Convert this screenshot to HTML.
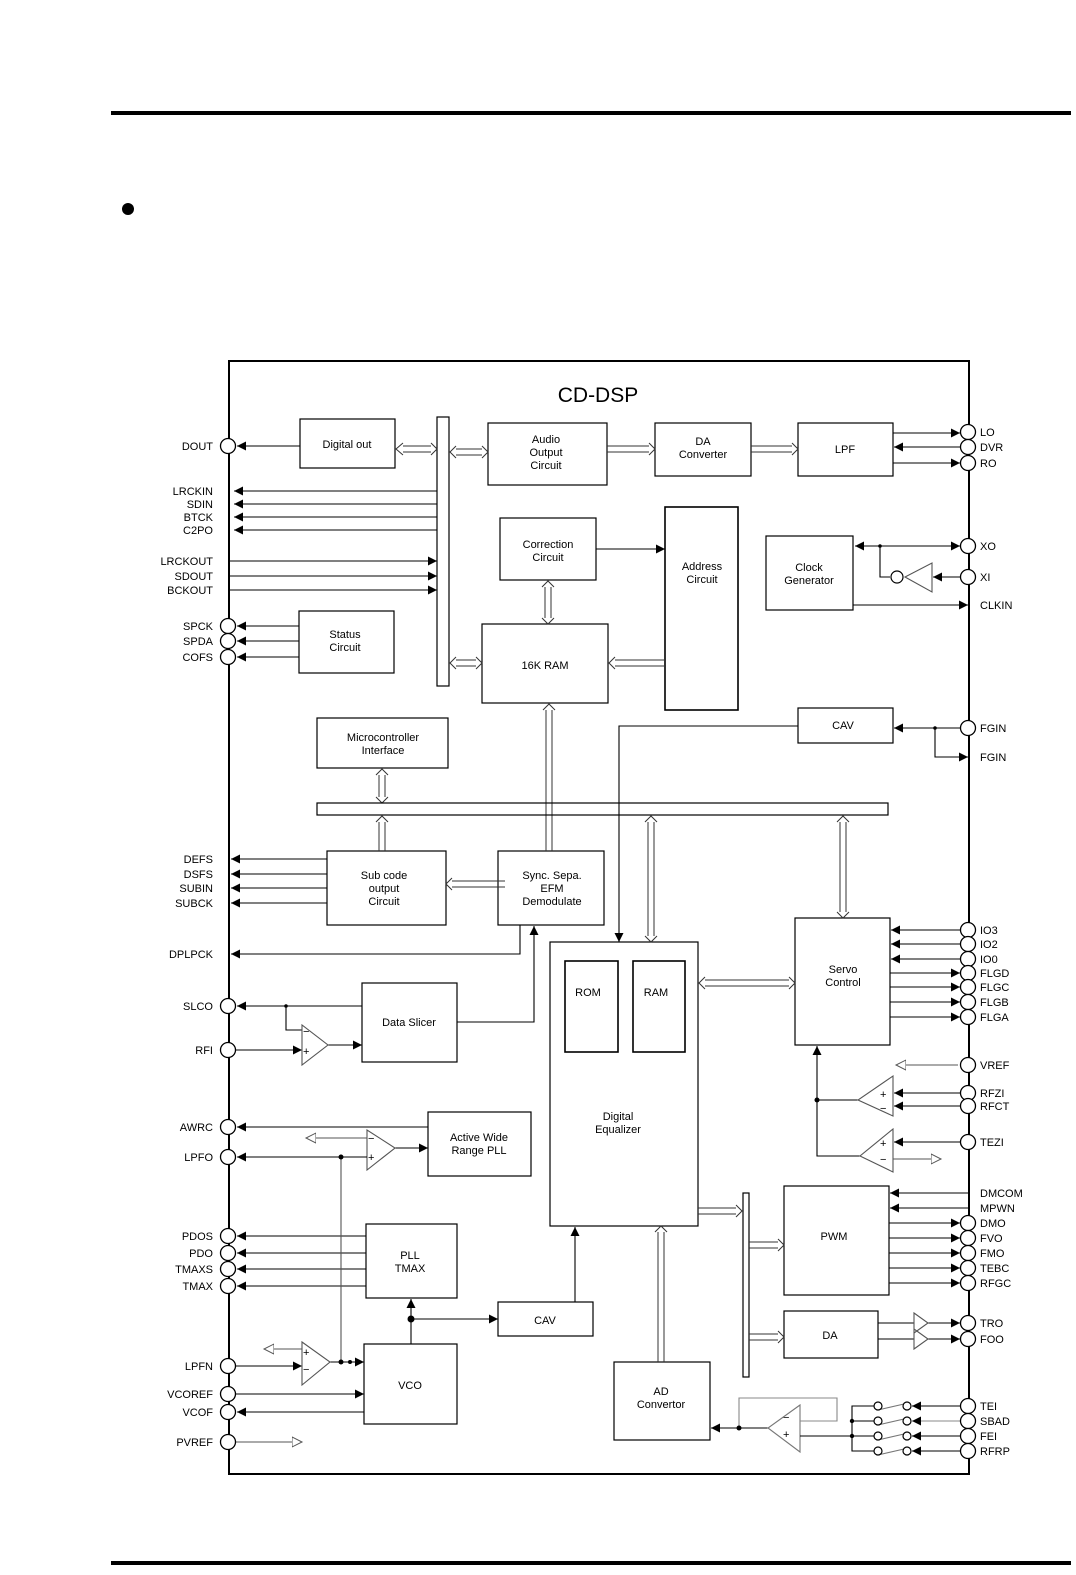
<!DOCTYPE html>
<html><head><meta charset="utf-8"><style>
html,body{margin:0;padding:0;background:#fff;}
svg{display:block;font-family:"Liberation Sans",sans-serif;}
text{font-size:11px;fill:#000;}
</style></head><body>
<svg width="1076" height="1575" viewBox="0 0 1076 1575" xmlns="http://www.w3.org/2000/svg">
<defs>
<marker id="a" markerUnits="userSpaceOnUse" markerWidth="10" markerHeight="10" refX="9" refY="5" orient="auto"><path d="M0,0.5 L9,5 L0,9.5 Z" fill="#000"/></marker>
<marker id="o" markerUnits="userSpaceOnUse" markerWidth="12" markerHeight="12" refX="10" refY="6" orient="auto"><path d="M0,1 L10,6 L0,11 Z" fill="#fff" stroke="#555" stroke-width="1"/></marker>
</defs>
<g stroke="#000" fill="none" stroke-width="1.2">
<line x1="111" y1="113" x2="1071" y2="113" stroke-width="4"/>
<line x1="111" y1="1563" x2="1071" y2="1563" stroke-width="4"/>
<rect x="229" y="361" width="740" height="1113" stroke-width="2"/>
</g>
<circle cx="128" cy="209" r="6" fill="#000"/>
<text x="598" y="402" text-anchor="middle" style="font-size:21px">CD-DSP</text>

<g stroke="#000" fill="#fff" stroke-width="1.2">
<rect x="300" y="419" width="95" height="49"/>
<rect x="437" y="417" width="12" height="269"/>
<rect x="488" y="423" width="119" height="62"/>
<rect x="655" y="423" width="96" height="53"/>
<rect x="798" y="423" width="95" height="53"/>
<rect x="500" y="518" width="96" height="62"/>
<rect x="665" y="507" width="73" height="203" stroke-width="1.6"/>
<rect x="482" y="624" width="126" height="79"/>
<rect x="766" y="536" width="87" height="74"/>
<rect x="299" y="611" width="95" height="62"/>
<rect x="317" y="718" width="131" height="50"/>
<rect x="798" y="708" width="95" height="35"/>
<rect x="327" y="851" width="119" height="74"/>
<rect x="498" y="851" width="106" height="74"/>
<rect x="550" y="942" width="148" height="284"/>
<rect x="565" y="961" width="53" height="91" stroke-width="1.6"/>
<rect x="633" y="961" width="52" height="91" stroke-width="1.6"/>
<rect x="795" y="918" width="95" height="127"/>
<rect x="362" y="983" width="95" height="79"/>
<rect x="428" y="1112" width="103" height="64"/>
<rect x="366" y="1224" width="91" height="74"/>
<rect x="498" y="1302" width="95" height="34"/>
<rect x="364" y="1344" width="93" height="80"/>
<rect x="614" y="1362" width="96" height="78"/>
<rect x="784" y="1186" width="105" height="109"/>
<rect x="784" y="1311" width="94" height="47"/>
<rect x="743" y="1193" width="6" height="184"/>
</g>

<!-- double-line bus connectors -->
<g stroke="#333" fill="none" stroke-width="1">
<path d="M403,446 H431 M403,452 H431 M403,443 L396,449 L403,455 M431,443 L437,449 L431,455"/>
<path d="M456,449 H482 M456,455 H482 M456,446 L450,452 L456,458 M482,446 L488,452 L482,458"/>
<path d="M607,446 H649 M607,452 H649 M649,443 L655,449 L649,455"/>
<path d="M751,446 H792 M751,452 H792 M792,443 L798,449 L792,455"/>
<path d="M456,660 H476 M456,666 H476 M456,657 L450,663 L456,669 M476,657 L482,663 L476,669"/>
<path d="M615,660 H665 M615,666 H665 M615,657 L609,663 L615,669"/>
<path d="M545,587 V618 M551,587 V618 M542,587 L548,581 L554,587 M542,618 L548,624 L554,618"/>
<path d="M546,710 V851 M552,710 V851 M543,710 L549,704 L555,710"/>
<path d="M379,775 V797 M385,775 V797 M376,775 L382,769 L388,775 M376,797 L382,803 L388,797"/>
<path d="M379,822 V851 M385,822 V851 M376,822 L382,816 L388,822"/>
<path d="M505,881 H452 M505,887 H452 M452,878 L446,884 L452,890"/>
<path d="M648,822 V936 M654,822 V936 M645,822 L651,816 L657,822 M645,936 L651,942 L657,936"/>
<path d="M840,822 V912 M846,822 V912 M837,822 L843,816 L849,822 M837,912 L843,918 L849,912"/>
<path d="M705,980 H789 M705,986 H789 M705,977 L699,983 L705,989 M789,977 L795,983 L789,989"/>
<path d="M698,1208 H736 M698,1214 H736 M736,1205 L742,1211 L736,1217"/>
<path d="M749,1242 H778 M749,1248 H778 M778,1239 L784,1245 L778,1251"/>
<path d="M749,1334 H778 M749,1340 H778 M778,1331 L784,1337 L778,1343"/>
<path d="M658,1362 V1232 M664,1362 V1232 M655,1232 L661,1226 L667,1232"/>
</g>
<rect x="317" y="803" width="571" height="12" fill="none" stroke="#000" stroke-width="1.2"/>

<!-- signal lines -->
<g stroke="#000" fill="none" stroke-width="1.1" marker-end="url(#a)">
<path d="M300,446 H237"/>
<path d="M437,491 H234"/><path d="M437,504 H234"/><path d="M437,517 H234"/><path d="M437,530 H234"/>
<path d="M230,561 H437"/><path d="M230,576 H437"/><path d="M230,590 H437"/>
<path d="M299,626 H237"/><path d="M299,641 H237"/><path d="M299,657 H237"/>
<path d="M893,433 H960"/><path d="M960,447 H894"/><path d="M893,463 H960"/>
<path d="M596,549 H665"/>
<path d="M960,546 H855"/><path d="M880,546 H960"/>
<path d="M960,577 H933"/>
<path d="M853,605 H968"/>
<path d="M960,728 H894"/>
<path d="M935,728 V757 H968"/>
<path d="M798,726 H619 V942"/>
<path d="M327,859 H231"/><path d="M327,874 H231"/><path d="M327,888 H231"/><path d="M327,903 H231"/>
<path d="M520,925 V954 H231"/>
<path d="M960,930 H891"/><path d="M960,944 H891"/><path d="M960,959 H891"/>
<path d="M890,973 H960"/><path d="M890,987 H960"/><path d="M890,1002 H960"/><path d="M890,1017 H960"/>
<path d="M960,1093 H894"/><path d="M960,1106 H894"/><path d="M960,1142 H894"/>
<path d="M817,1100 V1046"/>
<path d="M362,1006 H237"/>
<path d="M230,1050 H302"/>
<path d="M328,1045 H362"/>
<path d="M457,1022 H534 V926"/>
<path d="M428,1127 H237"/>
<path d="M395,1148 H428"/>
<path d="M367,1157 H237"/>
<path d="M366,1236 H237"/><path d="M366,1253 H237"/><path d="M366,1269 H237"/><path d="M366,1286 H237"/>
<path d="M411,1344 V1299"/>
<path d="M411,1319 H498"/>
<path d="M575,1302 V1227"/>
<path d="M230,1366 H302"/>
<path d="M330,1362 H364"/>
<path d="M230,1394 H364"/>
<path d="M364,1412 H237"/>
<path d="M969,1193 H890"/><path d="M969,1208 H890"/>
<path d="M889,1223 H960"/><path d="M889,1238 H960"/><path d="M889,1253 H960"/><path d="M889,1268 H960"/><path d="M889,1283 H960"/>
<path d="M928,1323 H960"/><path d="M928,1339 H960"/>
<path d="M768,1428 H711"/>
<path d="M960,1406 H912"/><path d="M960,1421 H912" stroke="#888"/><path d="M960,1436 H912"/><path d="M960,1451 H912"/>
</g>
<g stroke="#000" fill="none" stroke-width="1.1">
<path d="M880,546 V577 H890"/>
<path d="M932,563 V592 L905,577 Z" stroke="#555"/>
<path d="M858,1100 H817 V1156 H860"/>
<path d="M893,1076 V1116 L858,1100 Z" stroke="#555"/>
<path d="M893,1129 V1172 L860,1156 Z" stroke="#555"/>
<path d="M286,1006 V1030 H302"/>
<path d="M302,1025 V1065 L328,1045 Z" stroke="#555"/>
<path d="M367,1130 V1170 L395,1148 Z" stroke="#555"/>
<path d="M341,1157 H367"/>
<path d="M341,1157 V1362" stroke="#555"/>
<path d="M302,1342 V1385 L330,1362 Z" stroke="#555"/>
<path d="M878,1323 H914 M878,1339 H914"/>
<path d="M914,1313 V1333 L928,1323 Z M914,1329 V1349 L928,1339 Z" stroke="#555"/>
<path d="M800,1405 V1452 L768,1428 Z" stroke="#777"/>
<path d="M739,1428 V1398 H837 V1421 H800" stroke="#888"/>
<path d="M800,1436 H852"/>
<path d="M878,1406 H852 V1451 H878 M852,1421 H878 M852,1436 H878"/>
<path d="M878,1410 L904,1404 M878,1425 L904,1419 M878,1440 L904,1434 M878,1455 L904,1449" stroke="#777"/>
</g>
<g stroke="#555" fill="none" stroke-width="1" marker-end="url(#o)">
<path d="M958,1065 H896"/>
<path d="M893,1159 H941"/>
<path d="M367,1138 H306"/>
<path d="M302,1349 H264"/>
<path d="M235,1442 H302"/>
</g>
<g fill="#000">
<circle cx="880" cy="546" r="1.8"/><circle cx="935" cy="728" r="1.8"/>
<circle cx="817" cy="1100" r="2.5"/><circle cx="286" cy="1006" r="1.8"/>
<circle cx="341" cy="1157" r="2.5"/><circle cx="341" cy="1362" r="2.5"/><circle cx="350" cy="1362" r="2"/>
<circle cx="411" cy="1319" r="3.5"/><circle cx="739" cy="1428" r="2.5"/>
<circle cx="852" cy="1421" r="2.2"/><circle cx="852" cy="1436" r="2.2"/>
</g>
<g fill="#fff" stroke="#000" stroke-width="1.2">
<circle cx="897" cy="577" r="6"/>
<circle cx="878" cy="1406" r="4"/><circle cx="907" cy="1406" r="4"/>
<circle cx="878" cy="1421" r="4"/><circle cx="907" cy="1421" r="4"/>
<circle cx="878" cy="1436" r="4"/><circle cx="907" cy="1436" r="4"/>
<circle cx="878" cy="1451" r="4"/><circle cx="907" cy="1451" r="4"/>
</g>
<!-- opamp signs -->
<g style="font-size:13px">
<text x="880" y="1098">+</text><text x="880" y="1112">−</text>
<text x="880" y="1147">+</text><text x="880" y="1163">−</text>
<text x="303" y="1035">−</text><text x="303" y="1055">+</text>
<text x="368" y="1142">−</text><text x="368" y="1161">+</text>
<text x="303" y="1356">+</text><text x="303" y="1373">−</text>
<text x="783" y="1421">−</text><text x="783" y="1438">+</text>
</g>

<!-- pin circles -->
<g fill="#fff" stroke="#000" stroke-width="1.3">
<circle cx="228" cy="446" r="7.5"/>
<circle cx="228" cy="626" r="7.5"/><circle cx="228" cy="641" r="7.5"/><circle cx="228" cy="657" r="7.5"/>
<circle cx="228" cy="1006" r="7.5"/><circle cx="228" cy="1050" r="7.5"/>
<circle cx="228" cy="1127" r="7.5"/><circle cx="228" cy="1157" r="7.5"/>
<circle cx="228" cy="1236" r="7.5"/><circle cx="228" cy="1253" r="7.5"/><circle cx="228" cy="1269" r="7.5"/><circle cx="228" cy="1286" r="7.5"/>
<circle cx="228" cy="1366" r="7.5"/><circle cx="228" cy="1394" r="7.5"/><circle cx="228" cy="1412" r="7.5"/><circle cx="228" cy="1442" r="7.5"/>
<circle cx="968" cy="432" r="7.5"/><circle cx="968" cy="447" r="7.5"/><circle cx="968" cy="463" r="7.5"/>
<circle cx="968" cy="546" r="7.5"/><circle cx="968" cy="577" r="7.5"/><circle cx="968" cy="728" r="7.5"/>
<circle cx="968" cy="930" r="7.5"/><circle cx="968" cy="944" r="7.5"/><circle cx="968" cy="959" r="7.5"/>
<circle cx="968" cy="973" r="7.5"/><circle cx="968" cy="987" r="7.5"/><circle cx="968" cy="1002" r="7.5"/><circle cx="968" cy="1017" r="7.5"/>
<circle cx="968" cy="1065" r="7.5"/><circle cx="968" cy="1093" r="7.5"/><circle cx="968" cy="1106" r="7.5"/><circle cx="968" cy="1142" r="7.5"/>
<circle cx="968" cy="1223" r="7.5"/><circle cx="968" cy="1238" r="7.5"/><circle cx="968" cy="1253" r="7.5"/><circle cx="968" cy="1268" r="7.5"/><circle cx="968" cy="1283" r="7.5"/>
<circle cx="968" cy="1323" r="7.5"/><circle cx="968" cy="1339" r="7.5"/>
<circle cx="968" cy="1406" r="7.5"/><circle cx="968" cy="1421" r="7.5"/><circle cx="968" cy="1436" r="7.5"/><circle cx="968" cy="1451" r="7.5"/>
</g>

<!-- left labels -->
<g text-anchor="end">
<text x="213" y="450">DOUT</text>
<text x="213" y="495">LRCKIN</text><text x="213" y="508">SDIN</text><text x="213" y="521">BTCK</text><text x="213" y="534">C2PO</text>
<text x="213" y="565">LRCKOUT</text><text x="213" y="580">SDOUT</text><text x="213" y="594">BCKOUT</text>
<text x="213" y="630">SPCK</text><text x="213" y="645">SPDA</text><text x="213" y="661">COFS</text>
<text x="213" y="863">DEFS</text><text x="213" y="878">DSFS</text><text x="213" y="892">SUBIN</text><text x="213" y="907">SUBCK</text>
<text x="213" y="958">DPLPCK</text>
<text x="213" y="1010">SLCO</text><text x="213" y="1054">RFI</text>
<text x="213" y="1131">AWRC</text><text x="213" y="1161">LPFO</text>
<text x="213" y="1240">PDOS</text><text x="213" y="1257">PDO</text><text x="213" y="1273">TMAXS</text><text x="213" y="1290">TMAX</text>
<text x="213" y="1370">LPFN</text><text x="213" y="1398">VCOREF</text><text x="213" y="1416">VCOF</text><text x="213" y="1446">PVREF</text>
</g>
<!-- right labels -->
<g>
<text x="980" y="436">LO</text><text x="980" y="451">DVR</text><text x="980" y="467">RO</text>
<text x="980" y="550">XO</text><text x="980" y="581">XI</text><text x="980" y="609">CLKIN</text>
<text x="980" y="732">FGIN</text><text x="980" y="761">FGIN</text>
<text x="980" y="934">IO3</text><text x="980" y="948">IO2</text><text x="980" y="963">IO0</text>
<text x="980" y="977">FLGD</text><text x="980" y="991">FLGC</text><text x="980" y="1006">FLGB</text><text x="980" y="1021">FLGA</text>
<text x="980" y="1069">VREF</text><text x="980" y="1097">RFZI</text><text x="980" y="1110">RFCT</text><text x="980" y="1146">TEZI</text>
<text x="980" y="1197">DMCOM</text><text x="980" y="1212">MPWN</text>
<text x="980" y="1227">DMO</text><text x="980" y="1242">FVO</text><text x="980" y="1257">FMO</text><text x="980" y="1272">TEBC</text><text x="980" y="1287">RFGC</text>
<text x="980" y="1327">TRO</text><text x="980" y="1343">FOO</text>
<text x="980" y="1410">TEI</text><text x="980" y="1425">SBAD</text><text x="980" y="1440">FEI</text><text x="980" y="1455">RFRP</text>
</g>
<!-- box labels -->
<g text-anchor="middle">
<text x="347" y="448">Digital out</text>
<text x="546" y="443">Audio</text><text x="546" y="456">Output</text><text x="546" y="469">Circuit</text>
<text x="703" y="445">DA</text><text x="703" y="458">Converter</text>
<text x="845" y="453">LPF</text>
<text x="548" y="548">Correction</text><text x="548" y="561">Circuit</text>
<text x="702" y="570">Address</text><text x="702" y="583">Circuit</text>
<text x="809" y="571">Clock</text><text x="809" y="584">Generator</text>
<text x="345" y="638">Status</text><text x="345" y="651">Circuit</text>
<text x="545" y="669">16K RAM</text>
<text x="383" y="741">Microcontroller</text><text x="383" y="754">Interface</text>
<text x="843" y="729">CAV</text>
<text x="384" y="879">Sub code</text><text x="384" y="892">output</text><text x="384" y="905">Circuit</text>
<text x="552" y="879">Sync. Sepa.</text><text x="552" y="892">EFM</text><text x="552" y="905">Demodulate</text>
<text x="588" y="996">ROM</text><text x="656" y="996">RAM</text>
<text x="618" y="1120">Digital</text><text x="618" y="1133">Equalizer</text>
<text x="843" y="973">Servo</text><text x="843" y="986">Control</text>
<text x="409" y="1026">Data Slicer</text>
<text x="479" y="1141">Active Wide</text><text x="479" y="1154">Range PLL</text>
<text x="410" y="1259">PLL</text><text x="410" y="1272">TMAX</text>
<text x="545" y="1324">CAV</text>
<text x="410" y="1389">VCO</text>
<text x="661" y="1395">AD</text><text x="661" y="1408">Convertor</text>
<text x="834" y="1240">PWM</text>
<text x="830" y="1339">DA</text>
</g>
</svg>
</body></html>
